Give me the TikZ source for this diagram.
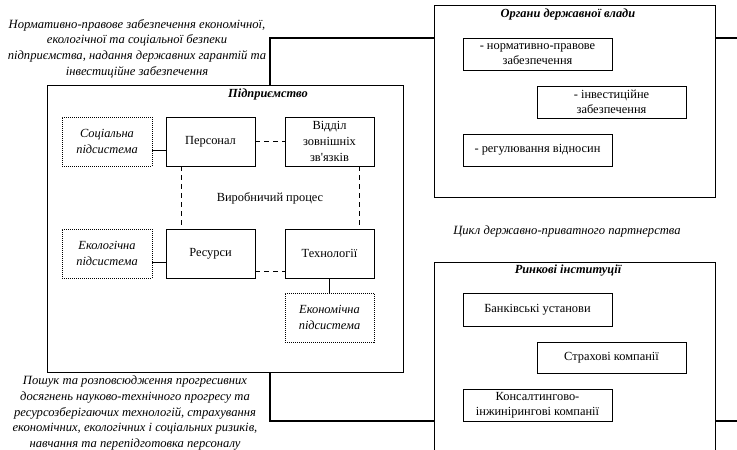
\documentclass[tikz,border=0pt]{standalone}
\usepackage{fontspec}
\setmainfont{Liberation Serif}
\usetikzlibrary{calc}
\begin{document}
\begin{tikzpicture}[x=1pt,y=-1pt,
  every node/.style={font=\fontsize{12.4}{16}\selectfont, inner sep=0pt},
  bx/.style={draw, line width=0.8pt, align=center, minimum width=89pt, minimum height=49pt},
  wbx/.style={draw, line width=0.8pt, align=center, minimum width=149pt, minimum height=32pt, font=\fontsize{12.4}{15}\selectfont},
  subbx/.style={draw, dash pattern=on 1pt off 1pt, line width=0.7pt, align=center, minimum width=90pt, minimum height=49pt, font=\fontsize{12.4}{16}\selectfont\itshape},
  dsh/.style={line width=0.8pt, dash pattern=on 5pt off 4pt},
  sol/.style={line width=0.8pt},
  thk/.style={line width=2.5pt},
  ital/.style={align=center, font=\fontsize{12.6}{15.8}\selectfont\itshape},
  hdr/.style={font=\fontsize{12.4}{16}\selectfont\bfseries\itshape}
]
\useasboundingbox (0,0) rectangle (737,450);
\clip (0,0) rectangle (737,450);

% frames
\node[draw, line width=0.8pt, minimum width=281pt, minimum height=192pt] (org) at (574.5,101) {};
\node[draw, line width=0.8pt, minimum width=281pt, minimum height=208pt] (mkt) at (574.5,366) {};
\node[draw, line width=0.8pt, minimum width=356pt, minimum height=287pt] (ent) at (225,228.5) {};

% headings
\node[hdr] (orgh) at (568,15) {Органи державної влади};
\node[hdr] (mkth) at (568,271) {Ринкові інституції};
\node[hdr] (enth) at (268,95) {Підприємство};

% outside texts
\node[ital] (toptxt) at (137,48.5) {Нормативно-правове забезпечення економічної,\\екологічної та соціальної безпеки\\підприємства, надання державних гарантій та\\інвестиційне забезпечення};
\node[ital] (bottxt) at (135,413) {Пошук та розповсюдження прогресивних\\досягнень науково-технічного прогресу та\\ресурсозберігаючих технологій, страхування\\економічних, екологічних і соціальних ризиків,\\навчання та перепідготовка персоналу};
\node[ital] (cycle) at (567,231) {Цикл державно-приватного партнерства};

% government boxes
\node[wbx] (g1) at (537.5,54) {- нормативно-правове\\забезпечення};
\node[wbx] (g2) at (611.5,102) {- інвестиційне\\забезпечення};
\node[wbx] (g3) at (537.5,150) {- регулювання відносин};

% market boxes
\node[wbx, minimum height=33pt] (m1) at (537.5,309.5) {Банківські установи};
\node[wbx, minimum height=31pt] (m2) at (611.5,357.5) {Страхові компанії};
\node[wbx] (m3) at (537.5,405) {Консалтингово-\\інжинірингові компанії};

% enterprise inner
\node[subbx] (soc) at (107,141.5) {Соціальна\\підсистема};
\node[bx] (pers) at (210.5,141.5) {Персонал};
\node[bx] (dep) at (329.5,141.5) {Відділ\\зовнішніх\\зв{\addfontfeatures{Ligatures=TeXOff}'}язків};
\node (proc) at (270,198) {Виробничий процес};
\node[subbx] (eco) at (107,253.5) {Екологічна\\підсистема};
\node[bx] (res) at (210.5,253.5) {Ресурси};
\node[bx] (tech) at (329.5,253.5) {Технології};
\node[subbx, minimum width=89pt] (econ) at (329.5,317.5) {Економічна\\підсистема};

% connectors inside enterprise
\draw[sol] ($(soc.east)+(0,8.5)$) -- ($(pers.west)+(0,8.5)$);
\draw[sol] ($(eco.east)+(0,8.5)$) -- ($(res.west)+(0,8.5)$);
\draw[dsh] (pers.east) -- (dep.west);
\draw[dsh] ($(res.east)+(0,17.5)$) -- ($(tech.west)+(0,17.5)$);
\draw[dsh] ($(pers.south west)+(16,0)$) -- ($(res.north west)+(16,0)$);
\draw[dsh] ($(dep.south east)+(-15,0)$) -- ($(tech.north east)+(-15,0)$);
\draw[sol] (tech.south) -- (econ.north);

% thick cycle lines
\coordinate (ctop) at (270,38);
\coordinate (cbot) at (270,421);
\coordinate (rtop) at (737,38);
\coordinate (rbot) at (737,421);
\draw[thk] (ent.north -| ctop) -- (ctop) -- (org.west |- ctop);
\draw[thk] (ent.south -| cbot) -- (cbot) -- (mkt.west |- cbot);
\draw[thk] (org.east |- rtop) -- (rtop);
\draw[thk] (mkt.east |- rbot) -- (rbot);
\end{tikzpicture}
\end{document}
